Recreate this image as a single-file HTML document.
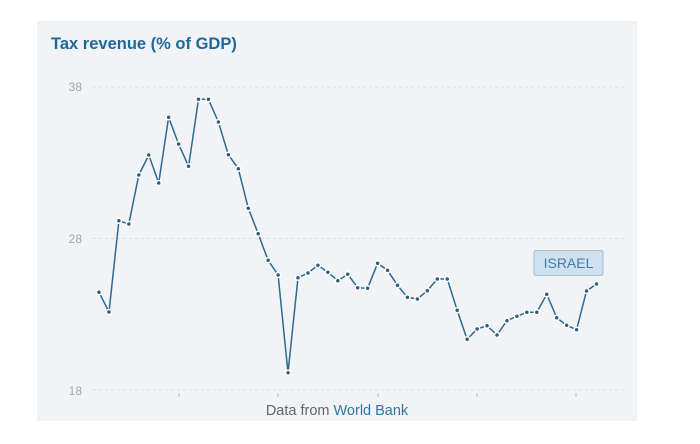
<!DOCTYPE html>
<html><head><meta charset="utf-8"><style>
body{margin:0;background:#fff;width:700px;height:444px;overflow:hidden;font-family:"Liberation Sans",sans-serif}
</style></head><body>
<svg width="700" height="444" xmlns="http://www.w3.org/2000/svg" style="position:absolute;left:0;top:0">
<rect x="37" y="21" width="600" height="400" fill="#f2f3f6"/>
<text x="51" y="49" font-family="Liberation Sans, sans-serif" font-weight="bold" font-size="16.5" fill="#1d6a9a">Tax revenue (% of GDP)</text>
<g stroke="#dcdde0" stroke-dasharray="3,3" stroke-width="1">
<line x1="93" y1="87" x2="625" y2="87"/>
<line x1="93" y1="238.5" x2="625" y2="238.5"/>
<line x1="93" y1="390" x2="625" y2="390"/>
</g>
<g font-family="Liberation Sans, sans-serif" font-size="12" fill="#a8a8a8" text-anchor="end">
<text x="82" y="91">38</text><text x="82" y="243">28</text><text x="82" y="395">18</text>
</g>
<g stroke="#bbb" stroke-width="1">
<line x1="179" y1="393" x2="179" y2="397"/><line x1="278" y1="393" x2="278" y2="397"/><line x1="378" y1="393" x2="378" y2="397"/><line x1="477" y1="393" x2="477" y2="397"/><line x1="576" y1="393" x2="576" y2="397"/>
</g>
<text x="337" y="415" text-anchor="middle" font-family="Liberation Sans, sans-serif" font-size="14.5" fill="#666">Data from <tspan fill="#2a78a8">World Bank</tspan></text>
<g id="s"></g>
<rect x="534" y="250.5" width="69" height="25" rx="2" fill="#cfe0ee" stroke="#9cc0dc"/>
<text x="568.5" y="268" text-anchor="middle" font-family="Liberation Sans, sans-serif" font-size="14" fill="#3f7fae">ISRAEL</text>
</svg>
<script>
var y=[292.3,312,220.7,224,175,155,183,117.3,144,166.3,99.3,99.3,122,154.7,168.7,208.3,233.7,260.3,275,372.7,277.7,273,265.3,272.3,280.7,274.3,287.7,288.3,263.3,270.3,285.3,297.3,299,290.7,279,279,310.3,339.3,329,325.7,335,320.7,316.3,312.3,312.3,294.3,317.7,325.3,329.7,291,284];
var g=document.getElementById('s'),ns='http://www.w3.org/2000/svg',pts=[];
for(var i=0;i<y.length;i++)pts.push((99+i*9.95).toFixed(1)+','+y[i]);
var p=document.createElementNS(ns,'polyline');p.setAttribute('points',pts.join(' '));p.setAttribute('fill','none');p.setAttribute('stroke','#2b6a92');p.setAttribute('stroke-width','1.5');g.appendChild(p);
for(i=0;i<y.length;i++){var c=document.createElementNS(ns,'circle');c.setAttribute('cx',99+i*9.95);c.setAttribute('cy',y[i]);c.setAttribute('r','2.5');c.setAttribute('fill','#2f5d78');c.setAttribute('stroke','#fff');c.setAttribute('stroke-width','1.5');g.appendChild(c);}
</script>
</body></html>
